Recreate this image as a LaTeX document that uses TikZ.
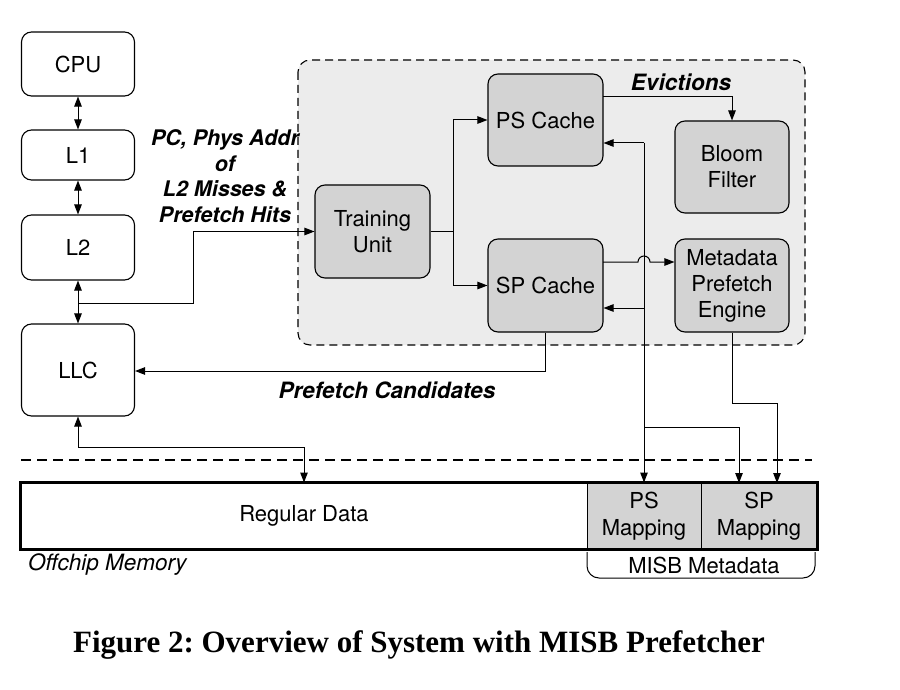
\documentclass[tikz,border=0pt]{standalone}
\usepackage{fontspec}
\setmainfont{TeX Gyre Heros}
\newfontfamily\capfont{Liberation Serif}
\usetikzlibrary{arrows.meta}
\definecolor{boxgray}{HTML}{D3D3D3}
\definecolor{regiongray}{HTML}{ECECEC}
\tikzset{
  box/.style={draw, line width=1.1pt, rounded corners=10pt, font=\fontsize{22}{26}\selectfont, align=center, inner sep=0pt},
  wbox/.style={box, minimum width=113pt},
  gbox/.style={box, fill=boxgray, minimum width=115pt, minimum height=93pt},
  tip/.tip={Triangle[length=10pt,width=7.5pt]},
  arr/.style={line width=1pt, -tip},
  dbl/.style={line width=1pt, tip-tip},
  wire/.style={line width=1pt},
  lbl/.style={font=\fontsize{22.5}{25.7}\selectfont\bfseries\itshape, align=center},
  memtxt/.style={font=\fontsize{22}{27}\selectfont, align=center, inner sep=0pt},
}
\begin{document}
\frenchspacing
\begin{tikzpicture}[x=1pt,y=-1pt]
\useasboundingbox (0,0) rectangle (900,690);
\fill[white] (0,0) rectangle (900,690);

% MISB region
\draw[fill=regiongray, line width=1.1pt, dash pattern=on 8pt off 5pt, rounded corners=12pt] (298,60) rectangle (805,345);

% left hierarchy
\node[wbox, minimum height=64pt] (cpu) at (78,64) {CPU};
\node[wbox, minimum height=50pt] (l1) at (78,155) {L1};
\node[wbox, minimum height=65pt] (l2) at (78,247.5) {L2};
\node[wbox, minimum height=92pt] (llc) at (78,370) {LLC};

% MISB components
\node[gbox] (tu) at (372.5,231.5) {Training\\Unit};
\node[gbox, minimum height=92pt] (ps) at (545.5,120) {PS Cache};
\node[gbox] (sp) at (545.5,285.5) {SP Cache};
\node[gbox, minimum width=114pt, minimum height=92pt] (bloom) at (732,167) {Bloom\\Filter};
\node[gbox, minimum width=114pt] (mpe) at (732,285.5) {Metadata\\Prefetch\\Engine};

% memory
\node[draw, line width=1pt, fill=white, minimum width=566pt, minimum height=66pt, memtxt] (reg) at (304,516) {Regular Data};
\node[draw, line width=1pt, fill=boxgray, minimum width=114pt, minimum height=66pt, memtxt] (psm) at (644,516) {PS\\Mapping};
\node[draw, line width=1pt, fill=boxgray, minimum width=116pt, minimum height=66pt, memtxt] (spm) at (759,516) {SP\\Mapping};
\draw[line width=2.6pt] (reg.north west) rectangle (spm.south east);

% boundary
\coordinate (dl) at (21,460);
\coordinate (dr) at (812,460);
\draw[line width=1.1pt, dash pattern=on 10pt off 6pt] (dl) -- (dr);

% hierarchy arrows
\draw[dbl] (cpu.south) -- (l1.north);
\draw[dbl] (l1.south) -- (l2.north);
\draw[dbl] (l2.south) -- (llc.north);
\coordinate (br) at (78,303);
\draw[arr] (br) -- (193,303) |- (tu.west);
\node[lbl, font=\fontsize{21.5}{25.7}\selectfont\bfseries\itshape] (pclbl) at (225,176) {PC, Phys Addr\\of\\L2 Misses \&\\Prefetch Hits};

% training unit fan-out
\coordinate (tub) at (453,231.5);
\draw[wire] (tu.east) -- (tub);
\draw[arr] (tub) |- (ps.west);
\draw[arr] (tub) |- (sp.west);

% evictions
\coordinate (ev) at (603,97);
\draw[arr] (ev) -| (bloom.north);
\node[lbl] (evlbl) at (681,82) {Evictions};

% SP -> MPE with hop
\coordinate (sph) at (603,262);
\draw[arr] (sph) -- (638,262) arc[start angle=180, end angle=360, radius=6] -- (mpe.west |- sph);

% PS mapping line up to caches
\coordinate (pstop) at (644,143);
\draw[arr] (pstop) -- (ps.east |- pstop);
\coordinate (sptap) at (644,308);
\draw[arr] (sptap) -- (sp.east |- sptap);
\draw[arr] (pstop) -- (psm.north);
\coordinate (mtap) at (644,427);
\draw[arr] (mtap) -| (739,483);

% MPE -> SP mapping
\draw[arr] (mpe.south) -- (732,403) -| (777,483);

% prefetch candidates
\draw[arr] (sp.south) |- (llc.east |- 0,371);
\node[lbl] (pclabel) at (387,390) {Prefetch Candidates};

% LLC <-> regular data
\coordinate (lm) at (78,447);
\draw[arr] (lm) -- (llc.south);
\draw[arr] (lm) -| (reg.north);

% labels below memory
\node[font=\fontsize{22.5}{26}\selectfont\itshape, anchor=west, inner sep=0pt] (off) at (28,565) {Offchip Memory};
\draw[line width=1pt, rounded corners=12pt] (587,552) -- (587,578) -- (815,578) -- (815,552);
\node[font=\fontsize{22}{26}\selectfont, inner sep=0pt] (misb) at (704,565) {MISB Metadata};

% caption
\node[font=\capfont\bfseries\fontsize{31}{35}\selectfont, inner sep=0pt] (cap) at (419,645) {Figure 2: Overview of System with MISB Prefetcher};
\end{tikzpicture}
\end{document}
